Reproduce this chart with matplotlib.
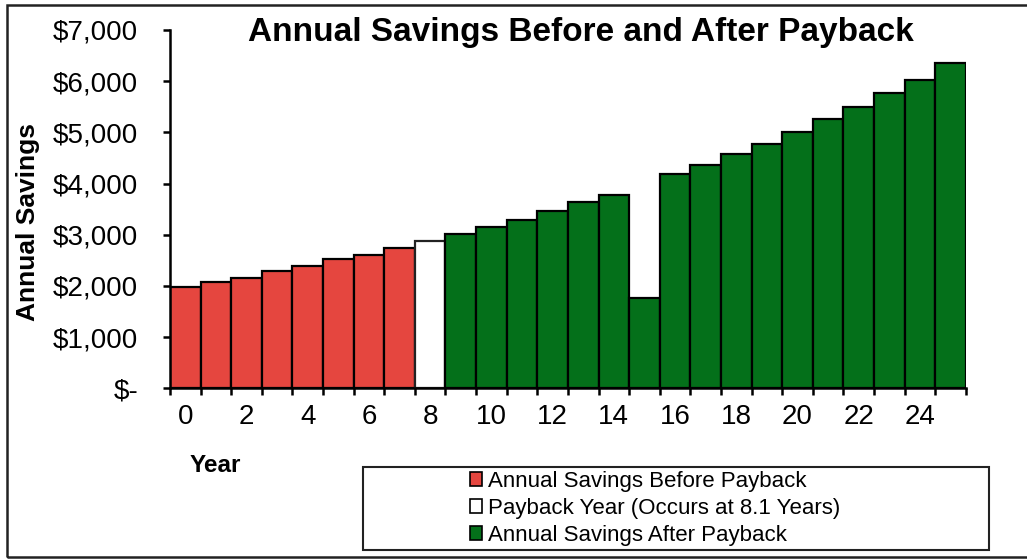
import matplotlib.pyplot as plt
from matplotlib import ticker
from matplotlib.patches import Rectangle, Patch

plt.rcParams['font.family'] = ['Liberation Sans', 'DejaVu Sans']

# annual savings per year
years_before = [0, 1, 2, 3, 4, 5, 6, 7]
savings_before = [1975, 2070, 2155, 2290, 2385, 2520, 2600, 2735]
years_payback = [8]
savings_payback = [2875]
years_after = list(range(9, 26))
savings_after = [3010, 3145, 3285, 3460, 3635, 3770, 1760, 4180, 4355,
                 4585, 4765, 5000, 5265, 5490, 5760, 6020, 6345]

labels = ['Annual Savings Before Payback',
          'Payback Year (Occurs at 8.1 Years)',
          'Annual Savings After Payback']
colors = ['#E5463F', '#FFFFFF', '#04701A']

fig = plt.figure(figsize=(10.27, 5.59), dpi=100)
ax = fig.add_axes([0.1655, 0.3054, 0.775, 0.641])

ax.bar(years_before, savings_before, width=1.0, color=colors[0], edgecolor='black', linewidth=1.6)
ax.bar(years_payback, savings_payback, width=1.0, color=colors[1], edgecolor='#222222', linewidth=1.6)
ax.bar(years_after, savings_after, width=1.0, color=colors[2], edgecolor='black', linewidth=1.6)

ax.set_xlim(-0.5, 25.5)
ax.set_ylim(0, 7000)
ax.spines['top'].set_visible(False)
ax.spines['right'].set_visible(False)
ax.spines['left'].set_linewidth(1.8)
ax.spines['bottom'].set_linewidth(1.8)

# ticks on the bar edges, labels on every other bar centre
ax.set_xticks([i - 0.5 for i in range(27)])
ax.xaxis.set_major_formatter(ticker.NullFormatter())
ax.set_xticks(list(range(0, 25, 2)), minor=True)
ax.xaxis.set_minor_formatter(ticker.FormatStrFormatter('%d'))
ax.tick_params(axis='x', which='major', direction='out', length=5, width=1.8)
ax.tick_params(axis='x', which='minor', length=0, labelsize=20, pad=11)

ax.set_yticks(range(0, 7001, 1000))
ax.yaxis.set_major_formatter(ticker.FuncFormatter(lambda v, p: '$-' if v == 0 else f'${v:,.0f}'))
ax.tick_params(axis='y', direction='out', length=5, width=1.8, labelsize=20, pad=18)

fig.text(0.566, 0.941, 'Annual Savings Before and After Payback', ha='center', va='center',
         fontsize=24, fontweight='bold')
fig.text(0.027, 0.603, 'Annual Savings', rotation=90, ha='center', va='center',
         fontsize=19, fontweight='bold')
fig.text(0.210, 0.168, 'Year', ha='center', va='center', fontsize=17.5, fontweight='bold')

# outer frame and legend box
fig.patches.append(Rectangle((7 / 1027, 2 / 559), 1.2, 552 / 559, transform=fig.transFigure,
                             fill=False, edgecolor='#222222', linewidth=1.8))
fig.patches.append(Rectangle((363 / 1027, 9 / 559), 626 / 1027, 83 / 559, transform=fig.transFigure,
                             fill=False, edgecolor='#222222', linewidth=1.5))

handles = [Patch(facecolor=c, edgecolor='black', linewidth=1.2) for c in colors]
fig.legend(handles, labels, loc='upper left', bbox_to_anchor=(461 / 1027, 1 - 462 / 559),
           frameon=False, fontsize=16, handlelength=0.55, handleheight=0.55,
           handletextpad=0.25, labelspacing=0.27, borderaxespad=0)

fig.savefig('out.png', dpi=100)
